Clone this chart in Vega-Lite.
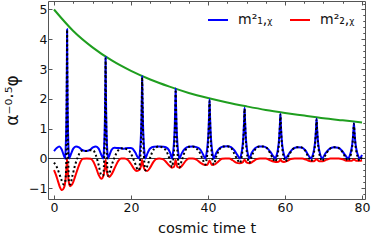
{
"$schema": "https://vega.github.io/schema/vega-lite/v6.json",
"width": 317, "height": 198, "autosize": "none",
"padding": {"left": 48, "top": 1, "right": 9, "bottom": 46},
"background": "white",
"config": {
  "font": "DejaVu Sans",
  "view": {"stroke": "#555", "strokeWidth": 1},
  "axis": {"domain": false, "grid": false, "tickColor": "#555", "tickWidth": 1, "labelColor": "#111", "labelFontSize": 12.5, "titleColor": "#111", "titleFontWeight": "normal", "labelFont": "DejaVu Sans", "titleFont": "DejaVu Sans"}
},
"datasets": {
"blue": [[0,0.25],[0.7,0.35],[1.4,0.40],[2.0,0.30],[2.5,0.12],[2.9,0.0],[3.025,0.30],[3.15,0.87],[3.275,1.95],[3.35,3.26],[3.4,4.34],[3.45,3.26],[3.525,1.95],[3.65,0.87],[3.775,0.30],[3.9,0.0],[4.4,0.15],[5.0,0.33],[5.7,0.40],[6.5,0.37],[7.3,0.29],[8.3,0.25],[9.3,0.29],[10.1,0.37],[10.9,0.40],[11.6,0.33],[12.2,0.15],[12.8,0.0],[12.95,0.24],[13.1,0.68],[13.25,1.53],[13.34,2.55],[13.4,3.40],[13.46,2.55],[13.55,1.53],[13.7,0.68],[13.85,0.24],[14.0,0.0],[14.5,0.15],[15.0,0.30],[15.7,0.36],[16.6,0.35],[17.4,0.34],[18.2,0.33],[19.2,0.35],[19.9,0.35],[20.4,0.33],[20.7,0.28],[21.2,0.18],[21.7,0.05],[22.1,0.0],[22.3,0.19],[22.5,0.55],[22.7,1.25],[22.82,2.08],[22.9,2.77],[22.98,2.08],[23.1,1.25],[23.3,0.55],[23.5,0.19],[23.7,0.0],[24.3,0.18],[25.0,0.34],[26,0.39],[27.2,0.40],[28.5,0.39],[29.5,0.34],[30.2,0.18],[30.65,0.0],[30.89,0.17],[31.125,0.47],[31.36,1.06],[31.5,1.77],[31.6,2.36],[31.7,1.77],[31.84,1.06],[32.075,0.47],[32.31,0.17],[32.55,0.0],[33.2,0.18],[34,0.33],[35,0.39],[36,0.40],[37,0.38],[38,0.30],[38.7,0.14],[39.3,0.0],[39.575,0.14],[39.85,0.40],[40.125,0.90],[40.29,1.49],[40.4,1.99],[40.51,1.49],[40.675,0.90],[40.95,0.40],[41.225,0.14],[41.5,0.0],[42.2,0.20],[43,0.34],[44,0.40],[45,0.41],[46,0.38],[46.8,0.28],[47.6,0.12],[48.3,0.0],[48.6,0.12],[48.9,0.34],[49.2,0.77],[49.38,1.28],[49.5,1.70],[49.62,1.28],[49.8,0.77],[50.1,0.34],[50.4,0.12],[50.7,0.0],[51.4,0.20],[52.3,0.35],[53.3,0.40],[54.3,0.40],[55.3,0.35],[56.2,0.22],[57.0,0.07],[57.5,0.0],[57.825,0.11],[58.15,0.30],[58.475,0.68],[58.67,1.13],[58.8,1.50],[58.93,1.13],[59.125,0.68],[59.45,0.30],[59.775,0.11],[60.1,0.0],[61,0.15],[62,0.32],[63.2,0.38],[64.3,0.37],[65.3,0.27],[66.1,0.10],[66.8,0.0],[67.15,0.09],[67.5,0.27],[67.85,0.60],[68.06,1.00],[68.2,1.34],[68.34,1.00],[68.55,0.60],[68.9,0.27],[69.25,0.09],[69.6,0.0],[70.5,0.17],[71.5,0.32],[72.7,0.38],[73.8,0.36],[74.8,0.26],[75.7,0.10],[76.4,0.0],[76.775,0.08],[77.15,0.24],[77.525,0.54],[77.75,0.89],[77.9,1.19],[78.05,0.89],[78.275,0.54],[78.65,0.24],[79.025,0.08],[79.4,0.0],[80,0.12]],
"red": [[0,-0.39],[0.5,-0.55],[1.0,-0.75],[1.5,-0.95],[2.1,-1.06],[2.6,-0.98],[3.0,-0.70],[3.25,-0.30],[3.4,-0.02],[3.55,-0.35],[3.8,-0.75],[4.2,-0.93],[4.8,-0.85],[5.5,-0.60],[6.2,-0.33],[6.9,-0.10],[7.5,-0.01],[8.5,0.0],[9.5,-0.01],[10.2,-0.10],[10.9,-0.30],[11.6,-0.55],[12.3,-0.68],[12.9,-0.55],[13.2,-0.30],[13.4,-0.05],[13.6,-0.30],[13.9,-0.55],[14.4,-0.62],[15.1,-0.50],[15.9,-0.28],[16.7,-0.08],[17.4,0.0],[18.3,0.0],[19.2,-0.05],[19.9,-0.17],[20.7,-0.33],[21.5,-0.42],[22.2,-0.38],[22.6,-0.25],[22.9,-0.05],[23.2,-0.25],[23.6,-0.38],[24.2,-0.42],[25.0,-0.30],[25.8,-0.12],[26.5,-0.02],[27.3,0.0],[28.2,-0.02],[29.0,-0.10],[29.8,-0.22],[30.6,-0.31],[31.2,-0.28],[31.6,-0.05],[32.0,-0.28],[32.6,-0.31],[33.4,-0.22],[34.2,-0.08],[35.0,0.0],[36.0,0.0],[37.0,-0.04],[38.0,-0.14],[39.0,-0.21],[39.8,-0.22],[40.4,-0.07],[41.0,-0.22],[41.8,-0.20],[42.7,-0.10],[43.6,-0.01],[44.5,0.0],[45.5,0.0],[46.4,-0.06],[47.3,-0.14],[48.2,-0.16],[49.0,-0.13],[49.5,-0.04],[50.0,-0.13],[50.8,-0.16],[51.7,-0.10],[52.6,-0.02],[53.5,0.0],[55.0,0.0],[56.0,-0.05],[57.0,-0.10],[58.0,-0.12],[58.5,-0.09],[58.8,-0.03],[59.1,-0.09],[59.7,-0.12],[60.6,-0.08],[61.5,-0.02],[62.5,0.0],[64.5,0.0],[65.5,-0.04],[66.6,-0.09],[67.5,-0.09],[68.2,-0.03],[68.9,-0.09],[69.8,-0.09],[70.8,-0.04],[71.8,0.0],[74.0,0.0],[75.0,-0.03],[76.2,-0.08],[77.3,-0.08],[77.9,-0.03],[78.5,-0.08],[79.5,-0.08],[80,-0.06]],
"black": [[0,-0.14],[0.7,-0.28],[1.4,-0.52],[2.0,-0.74],[2.5,-0.87],[2.9,-0.78],[3.15,-0.30],[3.28,1.60],[3.35,3.06],[3.4,4.32],[3.45,3.06],[3.52,1.60],[3.65,0.35],[3.78,-0.45],[3.9,-0.80],[4.2,-0.87],[4.8,-0.57],[5.5,-0.21],[6.2,0.05],[6.9,0.23],[7.5,0.27],[8.3,0.25],[9.3,0.28],[10.2,0.27],[10.9,0.10],[11.6,-0.22],[12.3,-0.56],[12.8,-0.57],[12.95,-0.28],[13.1,0.28],[13.25,1.28],[13.34,2.45],[13.4,3.35],[13.46,2.40],[13.55,1.25],[13.7,0.28],[13.85,-0.28],[14.0,-0.58],[14.4,-0.50],[15.0,-0.22],[15.7,0.03],[16.6,0.26],[17.4,0.34],[18.2,0.33],[19.2,0.30],[19.9,0.18],[20.4,0.05],[20.7,-0.05],[21.2,-0.21],[21.7,-0.37],[22.1,-0.39],[22.3,-0.18],[22.5,0.23],[22.7,1.03],[22.82,1.96],[22.9,2.72],[22.98,1.96],[23.1,1.03],[23.3,0.23],[23.5,-0.18],[23.7,-0.40],[24.3,-0.23],[25.0,0.04],[26.0,0.32],[27.2,0.40],[28.5,0.35],[29.5,0.16],[30.2,-0.09],[30.65,-0.29],[30.89,-0.14],[31.125,0.17],[31.36,0.84],[31.5,1.65],[31.6,2.31],[31.7,1.65],[31.84,0.84],[32.075,0.18],[32.31,-0.14],[32.55,-0.30],[33.2,-0.06],[34.0,0.24],[35.0,0.39],[36.0,0.40],[37.0,0.34],[38.0,0.16],[38.7,-0.06],[39.3,-0.21],[39.575,-0.08],[39.85,0.19],[40.125,0.74],[40.29,1.39],[40.4,1.92],[40.51,1.39],[40.675,0.74],[40.95,0.19],[41.225,-0.08],[41.5,-0.20],[42.2,0.08],[43.0,0.31],[44.0,0.40],[45.0,0.41],[46.0,0.35],[46.8,0.17],[47.6,-0.03],[48.3,-0.15],[48.6,-0.04],[48.9,0.20],[49.2,0.67],[49.38,1.22],[49.5,1.66],[49.62,1.22],[49.8,0.67],[50.1,0.20],[50.4,-0.04],[50.7,-0.15],[51.4,0.09],[52.3,0.31],[53.3,0.40],[54.3,0.40],[55.3,0.35],[56.2,0.16],[57.0,-0.03],[57.5,-0.11],[57.825,-0.01],[58.15,0.18],[58.475,0.59],[58.67,1.08],[58.8,1.47],[58.93,1.08],[59.125,0.59],[59.45,0.19],[59.775,-0.01],[60.1,-0.10],[61.0,0.11],[62.0,0.31],[63.2,0.38],[64.3,0.37],[65.3,0.25],[66.1,0.04],[66.8,-0.09],[67.15,0.0],[67.5,0.18],[67.85,0.53],[68.06,0.95],[68.2,1.31],[68.34,0.95],[68.55,0.53],[68.9,0.18],[69.25,0.0],[69.6,-0.09],[70.5,0.11],[71.5,0.31],[72.7,0.38],[73.8,0.36],[74.8,0.24],[75.7,0.04],[76.4,-0.08],[76.775,0.0],[77.15,0.16],[77.525,0.48],[77.75,0.85],[77.9,1.16],[78.05,0.85],[78.275,0.48],[78.65,0.16],[79.025,0.0],[79.4,-0.08],[80,0.06]],
"green": [[0,5.0],[5,4.28],[10,3.73],[15,3.29],[20,2.94],[25,2.65],[30,2.41],[35,2.20],[40,2.03],[45,1.88],[50,1.75],[55,1.63],[60,1.53],[65,1.44],[70,1.35],[75,1.28],[80,1.21]],
"zero": [{"v": 0}]
},
"layer": [
  {
    "data": {"name": "zero"},
    "mark": {"type": "rule", "color": "#333", "strokeWidth": 1},
    "encoding": {"y": {"field": "v", "type": "quantitative", "scale": {"domain": [-1.36, 5.285], "nice": false, "zero": false}, "axis": null}}
  },
  {
    "data": {"name": "green"},
    "mark": {"type": "line", "color": "#1f9e1f", "strokeWidth": 2, "interpolate": "monotone"},
    "encoding": {
      "x": {"field": "0", "type": "quantitative", "scale": {"domain": [-1.56, 80.78], "nice": false, "zero": false},
            "axis": {"values": [0,20,40,60,80], "tickSize": -4, "labelPadding": 6, "title": "cosmic time t", "titleFontSize": 14.5, "titlePadding": 8}},
      "y": {"field": "1", "type": "quantitative", "scale": {"domain": [-1.36, 5.285], "nice": false, "zero": false},
            "axis": {"values": [-1,0,1,2,3,4,5], "tickSize": -4, "labelPadding": 5, "title": "α⁻⁰·⁵φ", "titleFontSize": 17, "titlePadding": 7}}
    }
  },
  {
    "data": {"name": "blue"},
    "mark": {"type": "line", "strokeWidth": 2, "interpolate": "monotone"},
    "encoding": {
      "x": {"field": "0", "type": "quantitative", "axis": {"values": [5,10,15,25,30,35,45,50,55,65,70,75], "tickSize": -2, "labels": false, "title": null}},
      "y": {"field": "1", "type": "quantitative", "axis": {"values": [-1.2,-0.8,-0.6,-0.4,-0.2,0.2,0.4,0.6,0.8,1.2,1.4,1.6,1.8,2.2,2.4,2.6,2.8,3.2,3.4,3.6,3.8,4.2,4.4,4.6,4.8,5.2], "tickSize": -2, "labels": false, "title": null}},
      "color": {"datum": "m²₁,ᵪ", "type": "nominal", "scale": {"domain": ["m²₁,ᵪ", "m²₂,ᵪ"], "range": ["#0000ff", "#ff0000"]},
        "legend": {"orient": "none", "legendX": 159, "legendY": 8, "direction": "horizontal", "title": null, "symbolType": "stroke", "symbolSize": 400, "symbolStrokeWidth": 2, "labelFontSize": 14, "labelOffset": 9, "columnPadding": 13, "labelColor": "#111"}}
    }
  },
  {
    "data": {"name": "red"},
    "mark": {"type": "line", "strokeWidth": 2, "interpolate": "monotone"},
    "encoding": {
      "x": {"field": "0", "type": "quantitative", "axis": {"orient": "top", "values": [5,10,15,25,30,35,45,50,55,65,70,75], "tickSize": -2, "labels": false, "title": null}},
      "y": {"field": "1", "type": "quantitative", "axis": {"orient": "right", "values": [-1.2,-0.8,-0.6,-0.4,-0.2,0.2,0.4,0.6,0.8,1.2,1.4,1.6,1.8,2.2,2.4,2.6,2.8,3.2,3.4,3.6,3.8,4.2,4.4,4.6,4.8,5.2], "tickSize": -2, "labels": false, "title": null}},
      "color": {"datum": "m²₂,ᵪ", "type": "nominal"}
    }
  },
  {
    "data": {"name": "black"},
    "mark": {"type": "line", "color": "#000", "strokeWidth": 2, "strokeDash": [2, 2.5], "interpolate": "monotone"},
    "encoding": {
      "x": {"field": "0", "type": "quantitative", "axis": {"orient": "top", "values": [0,20,40,60,80], "tickSize": -4, "labels": false, "title": null}},
      "y": {"field": "1", "type": "quantitative", "axis": {"orient": "right", "values": [-1,0,1,2,3,4,5], "tickSize": -4, "labels": false, "title": null}}
    }
  }
],
"resolve": {"axis": {"x": "independent", "y": "independent"}}
}
